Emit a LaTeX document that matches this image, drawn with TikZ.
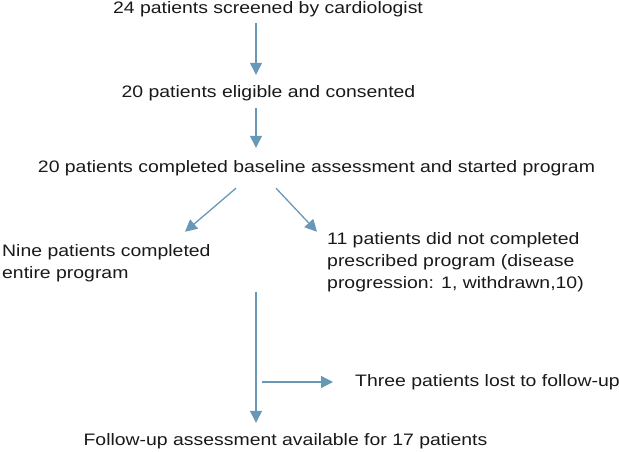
\documentclass[tikz,border=0pt]{standalone}
\usepackage{fontspec}
\setmainfont{Liberation Sans}[FakeStretch=1.17]
\definecolor{flowblue}{RGB}{104,152,184}
\definecolor{flowtext}{RGB}{25,25,25}
\usetikzlibrary{arrows.meta,calc}
\begin{document}
\begin{tikzpicture}[
  x=1pt,y=-1pt,
  steptext/.style={inner sep=0pt,text=flowtext,font=\fontsize{16.6}{22}\selectfont,
    text height=12pt,text depth=4pt,anchor=base},
  sidetext/.style={steptext,anchor=base west,align=left,text height=,text depth=},
  flowarrow/.style={-{Triangle[length=12pt,width=12pt]},flowblue,line width=1.3pt}
]
  \useasboundingbox (0,0) rectangle (619,452);
  \coordinate (spine) at (256,0);
  % Main steps
  \node[steptext] (screened) at (268,14) {24 patients screened by cardiologist};
  \node[steptext] (eligible) at (268.5,98) {20 patients eligible and consented};
  \node[steptext] (started) at (316.5,172) {20 patients completed baseline assessment and started program};
  % Branches (base = last line)
  \node[sidetext] (nine) at (2,278) {Nine patients completed\\entire program};
  \node[sidetext] (notdone) at (327,288) {11 patients did not completed\\prescribed program (disease\\progression: 1, withdrawn,10)};
  \node[steptext,anchor=base west] (lost) at (355,386) {Three patients lost to follow-up};
  % Follow-up
  \node[steptext] (followup) at (285.5,445) {Follow-up assessment available for 17 patients};
  % Arrows
  \draw[flowarrow] ([yshift=-5pt]screened.south -| spine) -- ([yshift=11pt]eligible.north -| spine);
  \draw[flowarrow] ([yshift=-6pt]eligible.south -| spine) -- ([yshift=12pt]started.north -| spine);
  \draw[flowarrow] ([xshift=-20pt,yshift=-12pt]started.south -| spine) -- ([xshift=183pt,yshift=12pt]nine.north west);
  \draw[flowarrow] ([xshift=20pt,yshift=-12pt]started.south -| spine) -- ([xshift=-10pt]notdone.north west);
  \draw[flowarrow] (notdone.south -| spine) -- ([yshift=10pt]followup.north -| spine);
  \draw[flowarrow] ([xshift=6pt]lost.west -| spine) -- ([xshift=-22pt]lost.west);
\end{tikzpicture}
\end{document}
